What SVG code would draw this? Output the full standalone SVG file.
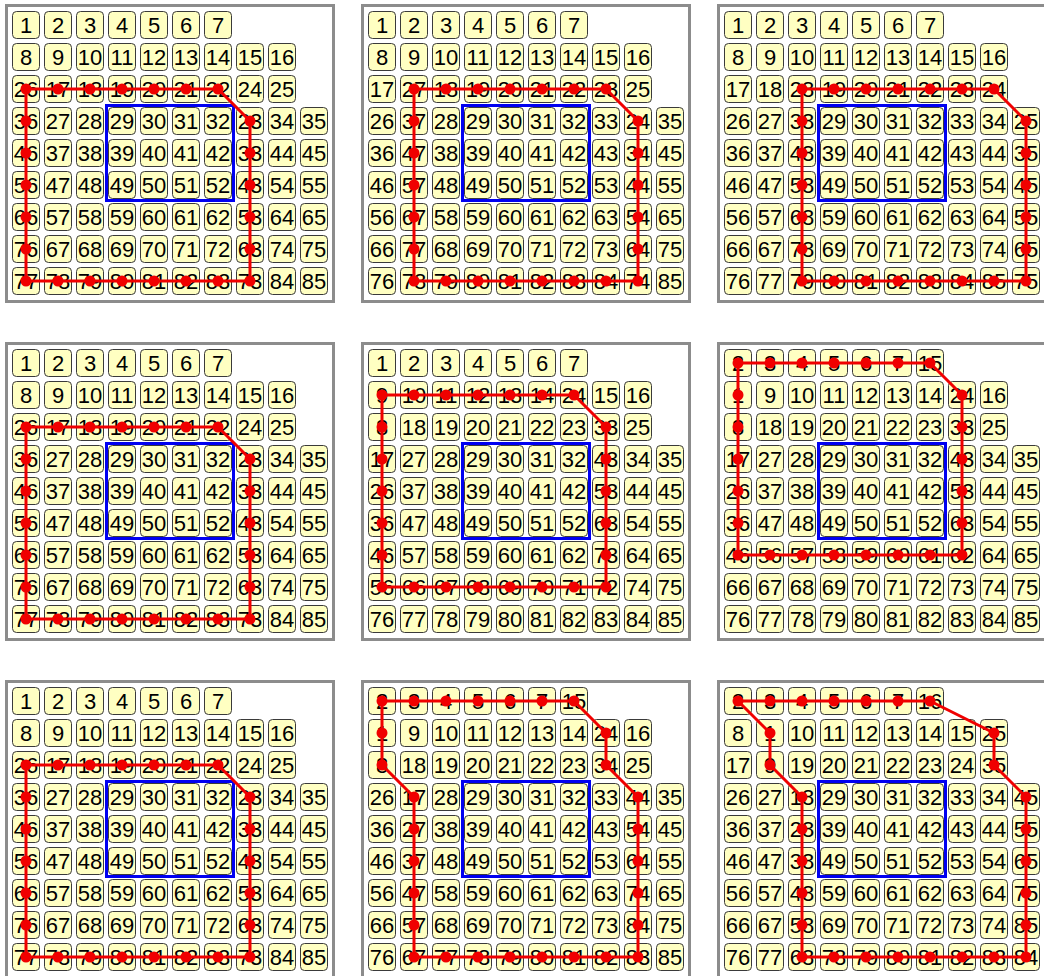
<svg xmlns="http://www.w3.org/2000/svg" xmlns:xlink="http://www.w3.org/1999/xlink" width="1044" height="976" viewBox="0 0 1044 976">
<style>
#b{fill:#ffffc2;stroke:#3a3a3a;stroke-width:1}
text{font-family:'Liberation Sans',Arial,sans-serif;font-size:22px;text-anchor:middle;fill:#000}
.f{fill:#fff;stroke:#8c8c8c;stroke-width:3}
.s{fill:none;stroke:#0000f0;stroke-width:3}
.r{fill:none;stroke:#f00000;stroke-width:3;stroke-linejoin:round}
.d{fill:#f00000}
</style>
<defs>
<rect id="b" x="-13.5" y="-21.5" width="27" height="27" rx="4"/>
</defs>
<rect width="1044" height="976" fill="#fff"/>

<g id="panel1" transform="translate(0,0)">
<rect class="f" x="6.5" y="5.5" width="327" height="296"/>
<g transform="translate(0,33)"><g id="p1n1"><use href="#b" x="26"/><text x="26">1</text></g><g id="p1n2"><use href="#b" x="58"/><text x="58">2</text></g><g id="p1n3"><use href="#b" x="90"/><text x="90">3</text></g><g id="p1n4"><use href="#b" x="122"/><text x="122">4</text></g><g id="p1n5"><use href="#b" x="154"/><text x="154">5</text></g><g id="p1n6"><use href="#b" x="186"/><text x="186">6</text></g><g id="p1n7"><use href="#b" x="218"/><text x="218">7</text></g></g>
<g transform="translate(0,65)"><g id="p1n8"><use href="#b" x="26"/><text x="26">8</text></g><g id="p1n9"><use href="#b" x="58"/><text x="58">9</text></g><g id="p1n10"><use href="#b" x="90"/><text x="90">10</text></g><g id="p1n11"><use href="#b" x="122"/><text x="122">11</text></g><g id="p1n12"><use href="#b" x="154"/><text x="154">12</text></g><g id="p1n13"><use href="#b" x="186"/><text x="186">13</text></g><g id="p1n14"><use href="#b" x="218"/><text x="218">14</text></g><g id="p1n15"><use href="#b" x="250"/><text x="250">15</text></g><g id="p1n16"><use href="#b" x="282"/><text x="282">16</text></g></g>
<g transform="translate(0,97)"><g id="p1n17"><use href="#b" x="26"/><text x="26">26</text></g><g id="p1n18"><use href="#b" x="58"/><text x="58">17</text></g><g id="p1n19"><use href="#b" x="90"/><text x="90">18</text></g><g id="p1n20"><use href="#b" x="122"/><text x="122">19</text></g><g id="p1n21"><use href="#b" x="154"/><text x="154">20</text></g><g id="p1n22"><use href="#b" x="186"/><text x="186">21</text></g><g id="p1n23"><use href="#b" x="218"/><text x="218">22</text></g><g id="p1n24"><use href="#b" x="250"/><text x="250">24</text></g><g id="p1n25"><use href="#b" x="282"/><text x="282">25</text></g></g>
<g transform="translate(0,129)"><g id="p1n26"><use href="#b" x="26"/><text x="26">36</text></g><g id="p1n27"><use href="#b" x="58"/><text x="58">27</text></g><g id="p1n28"><use href="#b" x="90"/><text x="90">28</text></g><g id="p1n29"><use href="#b" x="122"/><text x="122">29</text></g><g id="p1n30"><use href="#b" x="154"/><text x="154">30</text></g><g id="p1n31"><use href="#b" x="186"/><text x="186">31</text></g><g id="p1n32"><use href="#b" x="218"/><text x="218">32</text></g><g id="p1n33"><use href="#b" x="250"/><text x="250">23</text></g><g id="p1n34"><use href="#b" x="282"/><text x="282">34</text></g><g id="p1n35"><use href="#b" x="314"/><text x="314">35</text></g></g>
<g transform="translate(0,161)"><g id="p1n36"><use href="#b" x="26"/><text x="26">46</text></g><g id="p1n37"><use href="#b" x="58"/><text x="58">37</text></g><g id="p1n38"><use href="#b" x="90"/><text x="90">38</text></g><g id="p1n39"><use href="#b" x="122"/><text x="122">39</text></g><g id="p1n40"><use href="#b" x="154"/><text x="154">40</text></g><g id="p1n41"><use href="#b" x="186"/><text x="186">41</text></g><g id="p1n42"><use href="#b" x="218"/><text x="218">42</text></g><g id="p1n43"><use href="#b" x="250"/><text x="250">33</text></g><g id="p1n44"><use href="#b" x="282"/><text x="282">44</text></g><g id="p1n45"><use href="#b" x="314"/><text x="314">45</text></g></g>
<g transform="translate(0,193)"><g id="p1n46"><use href="#b" x="26"/><text x="26">56</text></g><g id="p1n47"><use href="#b" x="58"/><text x="58">47</text></g><g id="p1n48"><use href="#b" x="90"/><text x="90">48</text></g><g id="p1n49"><use href="#b" x="122"/><text x="122">49</text></g><g id="p1n50"><use href="#b" x="154"/><text x="154">50</text></g><g id="p1n51"><use href="#b" x="186"/><text x="186">51</text></g><g id="p1n52"><use href="#b" x="218"/><text x="218">52</text></g><g id="p1n53"><use href="#b" x="250"/><text x="250">43</text></g><g id="p1n54"><use href="#b" x="282"/><text x="282">54</text></g><g id="p1n55"><use href="#b" x="314"/><text x="314">55</text></g></g>
<g transform="translate(0,225)"><g id="p1n56"><use href="#b" x="26"/><text x="26">66</text></g><g id="p1n57"><use href="#b" x="58"/><text x="58">57</text></g><g id="p1n58"><use href="#b" x="90"/><text x="90">58</text></g><g id="p1n59"><use href="#b" x="122"/><text x="122">59</text></g><g id="p1n60"><use href="#b" x="154"/><text x="154">60</text></g><g id="p1n61"><use href="#b" x="186"/><text x="186">61</text></g><g id="p1n62"><use href="#b" x="218"/><text x="218">62</text></g><g id="p1n63"><use href="#b" x="250"/><text x="250">53</text></g><g id="p1n64"><use href="#b" x="282"/><text x="282">64</text></g><g id="p1n65"><use href="#b" x="314"/><text x="314">65</text></g></g>
<g transform="translate(0,257)"><g id="p1n66"><use href="#b" x="26"/><text x="26">76</text></g><g id="p1n67"><use href="#b" x="58"/><text x="58">67</text></g><g id="p1n68"><use href="#b" x="90"/><text x="90">68</text></g><g id="p1n69"><use href="#b" x="122"/><text x="122">69</text></g><g id="p1n70"><use href="#b" x="154"/><text x="154">70</text></g><g id="p1n71"><use href="#b" x="186"/><text x="186">71</text></g><g id="p1n72"><use href="#b" x="218"/><text x="218">72</text></g><g id="p1n73"><use href="#b" x="250"/><text x="250">63</text></g><g id="p1n74"><use href="#b" x="282"/><text x="282">74</text></g><g id="p1n75"><use href="#b" x="314"/><text x="314">75</text></g></g>
<g transform="translate(0,289)"><g id="p1n76"><use href="#b" x="26"/><text x="26">77</text></g><g id="p1n77"><use href="#b" x="58"/><text x="58">78</text></g><g id="p1n78"><use href="#b" x="90"/><text x="90">79</text></g><g id="p1n79"><use href="#b" x="122"/><text x="122">80</text></g><g id="p1n80"><use href="#b" x="154"/><text x="154">81</text></g><g id="p1n81"><use href="#b" x="186"/><text x="186">82</text></g><g id="p1n82"><use href="#b" x="218"/><text x="218">83</text></g><g id="p1n83"><use href="#b" x="250"/><text x="250">73</text></g><g id="p1n84"><use href="#b" x="282"/><text x="282">84</text></g><g id="p1n85"><use href="#b" x="314"/><text x="314">85</text></g></g>
<rect class="s" x="106.5" y="105.5" width="127" height="95"/>
<g id="p1-connectors"><polygon class="r" points="26,89 218,89 250,121 250,281 26,281"/><g class="d"><circle cx="26" cy="89" r="5.5"/><circle cx="58" cy="89" r="5.5"/><circle cx="90" cy="89" r="5.5"/><circle cx="122" cy="89" r="5.5"/><circle cx="154" cy="89" r="5.5"/><circle cx="186" cy="89" r="5.5"/><circle cx="218" cy="89" r="5.5"/><circle cx="250" cy="121" r="5.5"/><circle cx="250" cy="153" r="5.5"/><circle cx="250" cy="185" r="5.5"/><circle cx="250" cy="217" r="5.5"/><circle cx="250" cy="249" r="5.5"/><circle cx="250" cy="281" r="5.5"/><circle cx="218" cy="281" r="5.5"/><circle cx="186" cy="281" r="5.5"/><circle cx="154" cy="281" r="5.5"/><circle cx="122" cy="281" r="5.5"/><circle cx="90" cy="281" r="5.5"/><circle cx="58" cy="281" r="5.5"/><circle cx="26" cy="281" r="5.5"/><circle cx="26" cy="249" r="5.5"/><circle cx="26" cy="217" r="5.5"/><circle cx="26" cy="185" r="5.5"/><circle cx="26" cy="153" r="5.5"/><circle cx="26" cy="121" r="5.5"/></g></g>
</g>

<g id="panel2" transform="translate(356,0)">
<rect class="f" x="6.5" y="5.5" width="327" height="296"/>
<g transform="translate(0,33)"><g id="p2n1"><use href="#b" x="26"/><text x="26">1</text></g><g id="p2n2"><use href="#b" x="58"/><text x="58">2</text></g><g id="p2n3"><use href="#b" x="90"/><text x="90">3</text></g><g id="p2n4"><use href="#b" x="122"/><text x="122">4</text></g><g id="p2n5"><use href="#b" x="154"/><text x="154">5</text></g><g id="p2n6"><use href="#b" x="186"/><text x="186">6</text></g><g id="p2n7"><use href="#b" x="218"/><text x="218">7</text></g></g>
<g transform="translate(0,65)"><g id="p2n8"><use href="#b" x="26"/><text x="26">8</text></g><g id="p2n9"><use href="#b" x="58"/><text x="58">9</text></g><g id="p2n10"><use href="#b" x="90"/><text x="90">10</text></g><g id="p2n11"><use href="#b" x="122"/><text x="122">11</text></g><g id="p2n12"><use href="#b" x="154"/><text x="154">12</text></g><g id="p2n13"><use href="#b" x="186"/><text x="186">13</text></g><g id="p2n14"><use href="#b" x="218"/><text x="218">14</text></g><g id="p2n15"><use href="#b" x="250"/><text x="250">15</text></g><g id="p2n16"><use href="#b" x="282"/><text x="282">16</text></g></g>
<g transform="translate(0,97)"><g id="p2n17"><use href="#b" x="26"/><text x="26">17</text></g><g id="p2n18"><use href="#b" x="58"/><text x="58">27</text></g><g id="p2n19"><use href="#b" x="90"/><text x="90">18</text></g><g id="p2n20"><use href="#b" x="122"/><text x="122">19</text></g><g id="p2n21"><use href="#b" x="154"/><text x="154">20</text></g><g id="p2n22"><use href="#b" x="186"/><text x="186">21</text></g><g id="p2n23"><use href="#b" x="218"/><text x="218">22</text></g><g id="p2n24"><use href="#b" x="250"/><text x="250">23</text></g><g id="p2n25"><use href="#b" x="282"/><text x="282">25</text></g></g>
<g transform="translate(0,129)"><g id="p2n26"><use href="#b" x="26"/><text x="26">26</text></g><g id="p2n27"><use href="#b" x="58"/><text x="58">37</text></g><g id="p2n28"><use href="#b" x="90"/><text x="90">28</text></g><g id="p2n29"><use href="#b" x="122"/><text x="122">29</text></g><g id="p2n30"><use href="#b" x="154"/><text x="154">30</text></g><g id="p2n31"><use href="#b" x="186"/><text x="186">31</text></g><g id="p2n32"><use href="#b" x="218"/><text x="218">32</text></g><g id="p2n33"><use href="#b" x="250"/><text x="250">33</text></g><g id="p2n34"><use href="#b" x="282"/><text x="282">24</text></g><g id="p2n35"><use href="#b" x="314"/><text x="314">35</text></g></g>
<g transform="translate(0,161)"><g id="p2n36"><use href="#b" x="26"/><text x="26">36</text></g><g id="p2n37"><use href="#b" x="58"/><text x="58">47</text></g><g id="p2n38"><use href="#b" x="90"/><text x="90">38</text></g><g id="p2n39"><use href="#b" x="122"/><text x="122">39</text></g><g id="p2n40"><use href="#b" x="154"/><text x="154">40</text></g><g id="p2n41"><use href="#b" x="186"/><text x="186">41</text></g><g id="p2n42"><use href="#b" x="218"/><text x="218">42</text></g><g id="p2n43"><use href="#b" x="250"/><text x="250">43</text></g><g id="p2n44"><use href="#b" x="282"/><text x="282">34</text></g><g id="p2n45"><use href="#b" x="314"/><text x="314">45</text></g></g>
<g transform="translate(0,193)"><g id="p2n46"><use href="#b" x="26"/><text x="26">46</text></g><g id="p2n47"><use href="#b" x="58"/><text x="58">57</text></g><g id="p2n48"><use href="#b" x="90"/><text x="90">48</text></g><g id="p2n49"><use href="#b" x="122"/><text x="122">49</text></g><g id="p2n50"><use href="#b" x="154"/><text x="154">50</text></g><g id="p2n51"><use href="#b" x="186"/><text x="186">51</text></g><g id="p2n52"><use href="#b" x="218"/><text x="218">52</text></g><g id="p2n53"><use href="#b" x="250"/><text x="250">53</text></g><g id="p2n54"><use href="#b" x="282"/><text x="282">44</text></g><g id="p2n55"><use href="#b" x="314"/><text x="314">55</text></g></g>
<g transform="translate(0,225)"><g id="p2n56"><use href="#b" x="26"/><text x="26">56</text></g><g id="p2n57"><use href="#b" x="58"/><text x="58">67</text></g><g id="p2n58"><use href="#b" x="90"/><text x="90">58</text></g><g id="p2n59"><use href="#b" x="122"/><text x="122">59</text></g><g id="p2n60"><use href="#b" x="154"/><text x="154">60</text></g><g id="p2n61"><use href="#b" x="186"/><text x="186">61</text></g><g id="p2n62"><use href="#b" x="218"/><text x="218">62</text></g><g id="p2n63"><use href="#b" x="250"/><text x="250">63</text></g><g id="p2n64"><use href="#b" x="282"/><text x="282">54</text></g><g id="p2n65"><use href="#b" x="314"/><text x="314">65</text></g></g>
<g transform="translate(0,257)"><g id="p2n66"><use href="#b" x="26"/><text x="26">66</text></g><g id="p2n67"><use href="#b" x="58"/><text x="58">77</text></g><g id="p2n68"><use href="#b" x="90"/><text x="90">68</text></g><g id="p2n69"><use href="#b" x="122"/><text x="122">69</text></g><g id="p2n70"><use href="#b" x="154"/><text x="154">70</text></g><g id="p2n71"><use href="#b" x="186"/><text x="186">71</text></g><g id="p2n72"><use href="#b" x="218"/><text x="218">72</text></g><g id="p2n73"><use href="#b" x="250"/><text x="250">73</text></g><g id="p2n74"><use href="#b" x="282"/><text x="282">64</text></g><g id="p2n75"><use href="#b" x="314"/><text x="314">75</text></g></g>
<g transform="translate(0,289)"><g id="p2n76"><use href="#b" x="26"/><text x="26">76</text></g><g id="p2n77"><use href="#b" x="58"/><text x="58">78</text></g><g id="p2n78"><use href="#b" x="90"/><text x="90">79</text></g><g id="p2n79"><use href="#b" x="122"/><text x="122">80</text></g><g id="p2n80"><use href="#b" x="154"/><text x="154">81</text></g><g id="p2n81"><use href="#b" x="186"/><text x="186">82</text></g><g id="p2n82"><use href="#b" x="218"/><text x="218">83</text></g><g id="p2n83"><use href="#b" x="250"/><text x="250">84</text></g><g id="p2n84"><use href="#b" x="282"/><text x="282">74</text></g><g id="p2n85"><use href="#b" x="314"/><text x="314">85</text></g></g>
<rect class="s" x="106.5" y="105.5" width="127" height="95"/>
<g id="p2-connectors"><polygon class="r" points="58,89 250,89 282,121 282,281 58,281"/><g class="d"><circle cx="58" cy="89" r="5.5"/><circle cx="90" cy="89" r="5.5"/><circle cx="122" cy="89" r="5.5"/><circle cx="154" cy="89" r="5.5"/><circle cx="186" cy="89" r="5.5"/><circle cx="218" cy="89" r="5.5"/><circle cx="250" cy="89" r="5.5"/><circle cx="282" cy="121" r="5.5"/><circle cx="282" cy="153" r="5.5"/><circle cx="282" cy="185" r="5.5"/><circle cx="282" cy="217" r="5.5"/><circle cx="282" cy="249" r="5.5"/><circle cx="282" cy="281" r="5.5"/><circle cx="250" cy="281" r="5.5"/><circle cx="218" cy="281" r="5.5"/><circle cx="186" cy="281" r="5.5"/><circle cx="154" cy="281" r="5.5"/><circle cx="122" cy="281" r="5.5"/><circle cx="90" cy="281" r="5.5"/><circle cx="58" cy="281" r="5.5"/><circle cx="58" cy="249" r="5.5"/><circle cx="58" cy="217" r="5.5"/><circle cx="58" cy="185" r="5.5"/><circle cx="58" cy="153" r="5.5"/><circle cx="58" cy="121" r="5.5"/></g></g>
</g>

<g id="panel3" transform="translate(712,0)">
<rect class="f" x="6.5" y="5.5" width="327" height="296"/>
<g transform="translate(0,33)"><g id="p3n1"><use href="#b" x="26"/><text x="26">1</text></g><g id="p3n2"><use href="#b" x="58"/><text x="58">2</text></g><g id="p3n3"><use href="#b" x="90"/><text x="90">3</text></g><g id="p3n4"><use href="#b" x="122"/><text x="122">4</text></g><g id="p3n5"><use href="#b" x="154"/><text x="154">5</text></g><g id="p3n6"><use href="#b" x="186"/><text x="186">6</text></g><g id="p3n7"><use href="#b" x="218"/><text x="218">7</text></g></g>
<g transform="translate(0,65)"><g id="p3n8"><use href="#b" x="26"/><text x="26">8</text></g><g id="p3n9"><use href="#b" x="58"/><text x="58">9</text></g><g id="p3n10"><use href="#b" x="90"/><text x="90">10</text></g><g id="p3n11"><use href="#b" x="122"/><text x="122">11</text></g><g id="p3n12"><use href="#b" x="154"/><text x="154">12</text></g><g id="p3n13"><use href="#b" x="186"/><text x="186">13</text></g><g id="p3n14"><use href="#b" x="218"/><text x="218">14</text></g><g id="p3n15"><use href="#b" x="250"/><text x="250">15</text></g><g id="p3n16"><use href="#b" x="282"/><text x="282">16</text></g></g>
<g transform="translate(0,97)"><g id="p3n17"><use href="#b" x="26"/><text x="26">17</text></g><g id="p3n18"><use href="#b" x="58"/><text x="58">18</text></g><g id="p3n19"><use href="#b" x="90"/><text x="90">28</text></g><g id="p3n20"><use href="#b" x="122"/><text x="122">19</text></g><g id="p3n21"><use href="#b" x="154"/><text x="154">20</text></g><g id="p3n22"><use href="#b" x="186"/><text x="186">21</text></g><g id="p3n23"><use href="#b" x="218"/><text x="218">22</text></g><g id="p3n24"><use href="#b" x="250"/><text x="250">23</text></g><g id="p3n25"><use href="#b" x="282"/><text x="282">24</text></g></g>
<g transform="translate(0,129)"><g id="p3n26"><use href="#b" x="26"/><text x="26">26</text></g><g id="p3n27"><use href="#b" x="58"/><text x="58">27</text></g><g id="p3n28"><use href="#b" x="90"/><text x="90">38</text></g><g id="p3n29"><use href="#b" x="122"/><text x="122">29</text></g><g id="p3n30"><use href="#b" x="154"/><text x="154">30</text></g><g id="p3n31"><use href="#b" x="186"/><text x="186">31</text></g><g id="p3n32"><use href="#b" x="218"/><text x="218">32</text></g><g id="p3n33"><use href="#b" x="250"/><text x="250">33</text></g><g id="p3n34"><use href="#b" x="282"/><text x="282">34</text></g><g id="p3n35"><use href="#b" x="314"/><text x="314">25</text></g></g>
<g transform="translate(0,161)"><g id="p3n36"><use href="#b" x="26"/><text x="26">36</text></g><g id="p3n37"><use href="#b" x="58"/><text x="58">37</text></g><g id="p3n38"><use href="#b" x="90"/><text x="90">48</text></g><g id="p3n39"><use href="#b" x="122"/><text x="122">39</text></g><g id="p3n40"><use href="#b" x="154"/><text x="154">40</text></g><g id="p3n41"><use href="#b" x="186"/><text x="186">41</text></g><g id="p3n42"><use href="#b" x="218"/><text x="218">42</text></g><g id="p3n43"><use href="#b" x="250"/><text x="250">43</text></g><g id="p3n44"><use href="#b" x="282"/><text x="282">44</text></g><g id="p3n45"><use href="#b" x="314"/><text x="314">35</text></g></g>
<g transform="translate(0,193)"><g id="p3n46"><use href="#b" x="26"/><text x="26">46</text></g><g id="p3n47"><use href="#b" x="58"/><text x="58">47</text></g><g id="p3n48"><use href="#b" x="90"/><text x="90">58</text></g><g id="p3n49"><use href="#b" x="122"/><text x="122">49</text></g><g id="p3n50"><use href="#b" x="154"/><text x="154">50</text></g><g id="p3n51"><use href="#b" x="186"/><text x="186">51</text></g><g id="p3n52"><use href="#b" x="218"/><text x="218">52</text></g><g id="p3n53"><use href="#b" x="250"/><text x="250">53</text></g><g id="p3n54"><use href="#b" x="282"/><text x="282">54</text></g><g id="p3n55"><use href="#b" x="314"/><text x="314">45</text></g></g>
<g transform="translate(0,225)"><g id="p3n56"><use href="#b" x="26"/><text x="26">56</text></g><g id="p3n57"><use href="#b" x="58"/><text x="58">57</text></g><g id="p3n58"><use href="#b" x="90"/><text x="90">68</text></g><g id="p3n59"><use href="#b" x="122"/><text x="122">59</text></g><g id="p3n60"><use href="#b" x="154"/><text x="154">60</text></g><g id="p3n61"><use href="#b" x="186"/><text x="186">61</text></g><g id="p3n62"><use href="#b" x="218"/><text x="218">62</text></g><g id="p3n63"><use href="#b" x="250"/><text x="250">63</text></g><g id="p3n64"><use href="#b" x="282"/><text x="282">64</text></g><g id="p3n65"><use href="#b" x="314"/><text x="314">55</text></g></g>
<g transform="translate(0,257)"><g id="p3n66"><use href="#b" x="26"/><text x="26">66</text></g><g id="p3n67"><use href="#b" x="58"/><text x="58">67</text></g><g id="p3n68"><use href="#b" x="90"/><text x="90">78</text></g><g id="p3n69"><use href="#b" x="122"/><text x="122">69</text></g><g id="p3n70"><use href="#b" x="154"/><text x="154">70</text></g><g id="p3n71"><use href="#b" x="186"/><text x="186">71</text></g><g id="p3n72"><use href="#b" x="218"/><text x="218">72</text></g><g id="p3n73"><use href="#b" x="250"/><text x="250">73</text></g><g id="p3n74"><use href="#b" x="282"/><text x="282">74</text></g><g id="p3n75"><use href="#b" x="314"/><text x="314">65</text></g></g>
<g transform="translate(0,289)"><g id="p3n76"><use href="#b" x="26"/><text x="26">76</text></g><g id="p3n77"><use href="#b" x="58"/><text x="58">77</text></g><g id="p3n78"><use href="#b" x="90"/><text x="90">79</text></g><g id="p3n79"><use href="#b" x="122"/><text x="122">80</text></g><g id="p3n80"><use href="#b" x="154"/><text x="154">81</text></g><g id="p3n81"><use href="#b" x="186"/><text x="186">82</text></g><g id="p3n82"><use href="#b" x="218"/><text x="218">83</text></g><g id="p3n83"><use href="#b" x="250"/><text x="250">84</text></g><g id="p3n84"><use href="#b" x="282"/><text x="282">85</text></g><g id="p3n85"><use href="#b" x="314"/><text x="314">75</text></g></g>
<rect class="s" x="106.5" y="105.5" width="127" height="95"/>
<g id="p3-connectors"><polygon class="r" points="90,89 282,89 314,121 314,281 90,281"/><g class="d"><circle cx="90" cy="89" r="5.5"/><circle cx="122" cy="89" r="5.5"/><circle cx="154" cy="89" r="5.5"/><circle cx="186" cy="89" r="5.5"/><circle cx="218" cy="89" r="5.5"/><circle cx="250" cy="89" r="5.5"/><circle cx="282" cy="89" r="5.5"/><circle cx="314" cy="121" r="5.5"/><circle cx="314" cy="153" r="5.5"/><circle cx="314" cy="185" r="5.5"/><circle cx="314" cy="217" r="5.5"/><circle cx="314" cy="249" r="5.5"/><circle cx="314" cy="281" r="5.5"/><circle cx="282" cy="281" r="5.5"/><circle cx="250" cy="281" r="5.5"/><circle cx="218" cy="281" r="5.5"/><circle cx="186" cy="281" r="5.5"/><circle cx="154" cy="281" r="5.5"/><circle cx="122" cy="281" r="5.5"/><circle cx="90" cy="281" r="5.5"/><circle cx="90" cy="249" r="5.5"/><circle cx="90" cy="217" r="5.5"/><circle cx="90" cy="185" r="5.5"/><circle cx="90" cy="153" r="5.5"/><circle cx="90" cy="121" r="5.5"/></g></g>
</g>

<g id="panel4" transform="translate(0,338)">
<rect class="f" x="6.5" y="5.5" width="327" height="296"/>
<g transform="translate(0,33)"><g id="p4n1"><use href="#b" x="26"/><text x="26">1</text></g><g id="p4n2"><use href="#b" x="58"/><text x="58">2</text></g><g id="p4n3"><use href="#b" x="90"/><text x="90">3</text></g><g id="p4n4"><use href="#b" x="122"/><text x="122">4</text></g><g id="p4n5"><use href="#b" x="154"/><text x="154">5</text></g><g id="p4n6"><use href="#b" x="186"/><text x="186">6</text></g><g id="p4n7"><use href="#b" x="218"/><text x="218">7</text></g></g>
<g transform="translate(0,65)"><g id="p4n8"><use href="#b" x="26"/><text x="26">8</text></g><g id="p4n9"><use href="#b" x="58"/><text x="58">9</text></g><g id="p4n10"><use href="#b" x="90"/><text x="90">10</text></g><g id="p4n11"><use href="#b" x="122"/><text x="122">11</text></g><g id="p4n12"><use href="#b" x="154"/><text x="154">12</text></g><g id="p4n13"><use href="#b" x="186"/><text x="186">13</text></g><g id="p4n14"><use href="#b" x="218"/><text x="218">14</text></g><g id="p4n15"><use href="#b" x="250"/><text x="250">15</text></g><g id="p4n16"><use href="#b" x="282"/><text x="282">16</text></g></g>
<g transform="translate(0,97)"><g id="p4n17"><use href="#b" x="26"/><text x="26">26</text></g><g id="p4n18"><use href="#b" x="58"/><text x="58">17</text></g><g id="p4n19"><use href="#b" x="90"/><text x="90">18</text></g><g id="p4n20"><use href="#b" x="122"/><text x="122">19</text></g><g id="p4n21"><use href="#b" x="154"/><text x="154">20</text></g><g id="p4n22"><use href="#b" x="186"/><text x="186">21</text></g><g id="p4n23"><use href="#b" x="218"/><text x="218">22</text></g><g id="p4n24"><use href="#b" x="250"/><text x="250">24</text></g><g id="p4n25"><use href="#b" x="282"/><text x="282">25</text></g></g>
<g transform="translate(0,129)"><g id="p4n26"><use href="#b" x="26"/><text x="26">36</text></g><g id="p4n27"><use href="#b" x="58"/><text x="58">27</text></g><g id="p4n28"><use href="#b" x="90"/><text x="90">28</text></g><g id="p4n29"><use href="#b" x="122"/><text x="122">29</text></g><g id="p4n30"><use href="#b" x="154"/><text x="154">30</text></g><g id="p4n31"><use href="#b" x="186"/><text x="186">31</text></g><g id="p4n32"><use href="#b" x="218"/><text x="218">32</text></g><g id="p4n33"><use href="#b" x="250"/><text x="250">23</text></g><g id="p4n34"><use href="#b" x="282"/><text x="282">34</text></g><g id="p4n35"><use href="#b" x="314"/><text x="314">35</text></g></g>
<g transform="translate(0,161)"><g id="p4n36"><use href="#b" x="26"/><text x="26">46</text></g><g id="p4n37"><use href="#b" x="58"/><text x="58">37</text></g><g id="p4n38"><use href="#b" x="90"/><text x="90">38</text></g><g id="p4n39"><use href="#b" x="122"/><text x="122">39</text></g><g id="p4n40"><use href="#b" x="154"/><text x="154">40</text></g><g id="p4n41"><use href="#b" x="186"/><text x="186">41</text></g><g id="p4n42"><use href="#b" x="218"/><text x="218">42</text></g><g id="p4n43"><use href="#b" x="250"/><text x="250">33</text></g><g id="p4n44"><use href="#b" x="282"/><text x="282">44</text></g><g id="p4n45"><use href="#b" x="314"/><text x="314">45</text></g></g>
<g transform="translate(0,193)"><g id="p4n46"><use href="#b" x="26"/><text x="26">56</text></g><g id="p4n47"><use href="#b" x="58"/><text x="58">47</text></g><g id="p4n48"><use href="#b" x="90"/><text x="90">48</text></g><g id="p4n49"><use href="#b" x="122"/><text x="122">49</text></g><g id="p4n50"><use href="#b" x="154"/><text x="154">50</text></g><g id="p4n51"><use href="#b" x="186"/><text x="186">51</text></g><g id="p4n52"><use href="#b" x="218"/><text x="218">52</text></g><g id="p4n53"><use href="#b" x="250"/><text x="250">43</text></g><g id="p4n54"><use href="#b" x="282"/><text x="282">54</text></g><g id="p4n55"><use href="#b" x="314"/><text x="314">55</text></g></g>
<g transform="translate(0,225)"><g id="p4n56"><use href="#b" x="26"/><text x="26">66</text></g><g id="p4n57"><use href="#b" x="58"/><text x="58">57</text></g><g id="p4n58"><use href="#b" x="90"/><text x="90">58</text></g><g id="p4n59"><use href="#b" x="122"/><text x="122">59</text></g><g id="p4n60"><use href="#b" x="154"/><text x="154">60</text></g><g id="p4n61"><use href="#b" x="186"/><text x="186">61</text></g><g id="p4n62"><use href="#b" x="218"/><text x="218">62</text></g><g id="p4n63"><use href="#b" x="250"/><text x="250">53</text></g><g id="p4n64"><use href="#b" x="282"/><text x="282">64</text></g><g id="p4n65"><use href="#b" x="314"/><text x="314">65</text></g></g>
<g transform="translate(0,257)"><g id="p4n66"><use href="#b" x="26"/><text x="26">76</text></g><g id="p4n67"><use href="#b" x="58"/><text x="58">67</text></g><g id="p4n68"><use href="#b" x="90"/><text x="90">68</text></g><g id="p4n69"><use href="#b" x="122"/><text x="122">69</text></g><g id="p4n70"><use href="#b" x="154"/><text x="154">70</text></g><g id="p4n71"><use href="#b" x="186"/><text x="186">71</text></g><g id="p4n72"><use href="#b" x="218"/><text x="218">72</text></g><g id="p4n73"><use href="#b" x="250"/><text x="250">63</text></g><g id="p4n74"><use href="#b" x="282"/><text x="282">74</text></g><g id="p4n75"><use href="#b" x="314"/><text x="314">75</text></g></g>
<g transform="translate(0,289)"><g id="p4n76"><use href="#b" x="26"/><text x="26">77</text></g><g id="p4n77"><use href="#b" x="58"/><text x="58">78</text></g><g id="p4n78"><use href="#b" x="90"/><text x="90">79</text></g><g id="p4n79"><use href="#b" x="122"/><text x="122">80</text></g><g id="p4n80"><use href="#b" x="154"/><text x="154">81</text></g><g id="p4n81"><use href="#b" x="186"/><text x="186">82</text></g><g id="p4n82"><use href="#b" x="218"/><text x="218">83</text></g><g id="p4n83"><use href="#b" x="250"/><text x="250">73</text></g><g id="p4n84"><use href="#b" x="282"/><text x="282">84</text></g><g id="p4n85"><use href="#b" x="314"/><text x="314">85</text></g></g>
<rect class="s" x="106.5" y="105.5" width="127" height="95"/>
<g id="p4-connectors"><polygon class="r" points="26,89 218,89 250,121 250,281 26,281"/><g class="d"><circle cx="26" cy="89" r="5.5"/><circle cx="58" cy="89" r="5.5"/><circle cx="90" cy="89" r="5.5"/><circle cx="122" cy="89" r="5.5"/><circle cx="154" cy="89" r="5.5"/><circle cx="186" cy="89" r="5.5"/><circle cx="218" cy="89" r="5.5"/><circle cx="250" cy="121" r="5.5"/><circle cx="250" cy="153" r="5.5"/><circle cx="250" cy="185" r="5.5"/><circle cx="250" cy="217" r="5.5"/><circle cx="250" cy="249" r="5.5"/><circle cx="250" cy="281" r="5.5"/><circle cx="218" cy="281" r="5.5"/><circle cx="186" cy="281" r="5.5"/><circle cx="154" cy="281" r="5.5"/><circle cx="122" cy="281" r="5.5"/><circle cx="90" cy="281" r="5.5"/><circle cx="58" cy="281" r="5.5"/><circle cx="26" cy="281" r="5.5"/><circle cx="26" cy="249" r="5.5"/><circle cx="26" cy="217" r="5.5"/><circle cx="26" cy="185" r="5.5"/><circle cx="26" cy="153" r="5.5"/><circle cx="26" cy="121" r="5.5"/></g></g>
</g>

<g id="panel5" transform="translate(356,338)">
<rect class="f" x="6.5" y="5.5" width="327" height="296"/>
<g transform="translate(0,33)"><g id="p5n1"><use href="#b" x="26"/><text x="26">1</text></g><g id="p5n2"><use href="#b" x="58"/><text x="58">2</text></g><g id="p5n3"><use href="#b" x="90"/><text x="90">3</text></g><g id="p5n4"><use href="#b" x="122"/><text x="122">4</text></g><g id="p5n5"><use href="#b" x="154"/><text x="154">5</text></g><g id="p5n6"><use href="#b" x="186"/><text x="186">6</text></g><g id="p5n7"><use href="#b" x="218"/><text x="218">7</text></g></g>
<g transform="translate(0,65)"><g id="p5n8"><use href="#b" x="26"/><text x="26">9</text></g><g id="p5n9"><use href="#b" x="58"/><text x="58">10</text></g><g id="p5n10"><use href="#b" x="90"/><text x="90">11</text></g><g id="p5n11"><use href="#b" x="122"/><text x="122">12</text></g><g id="p5n12"><use href="#b" x="154"/><text x="154">13</text></g><g id="p5n13"><use href="#b" x="186"/><text x="186">14</text></g><g id="p5n14"><use href="#b" x="218"/><text x="218">24</text></g><g id="p5n15"><use href="#b" x="250"/><text x="250">15</text></g><g id="p5n16"><use href="#b" x="282"/><text x="282">16</text></g></g>
<g transform="translate(0,97)"><g id="p5n17"><use href="#b" x="26"/><text x="26">8</text></g><g id="p5n18"><use href="#b" x="58"/><text x="58">18</text></g><g id="p5n19"><use href="#b" x="90"/><text x="90">19</text></g><g id="p5n20"><use href="#b" x="122"/><text x="122">20</text></g><g id="p5n21"><use href="#b" x="154"/><text x="154">21</text></g><g id="p5n22"><use href="#b" x="186"/><text x="186">22</text></g><g id="p5n23"><use href="#b" x="218"/><text x="218">23</text></g><g id="p5n24"><use href="#b" x="250"/><text x="250">33</text></g><g id="p5n25"><use href="#b" x="282"/><text x="282">25</text></g></g>
<g transform="translate(0,129)"><g id="p5n26"><use href="#b" x="26"/><text x="26">17</text></g><g id="p5n27"><use href="#b" x="58"/><text x="58">27</text></g><g id="p5n28"><use href="#b" x="90"/><text x="90">28</text></g><g id="p5n29"><use href="#b" x="122"/><text x="122">29</text></g><g id="p5n30"><use href="#b" x="154"/><text x="154">30</text></g><g id="p5n31"><use href="#b" x="186"/><text x="186">31</text></g><g id="p5n32"><use href="#b" x="218"/><text x="218">32</text></g><g id="p5n33"><use href="#b" x="250"/><text x="250">43</text></g><g id="p5n34"><use href="#b" x="282"/><text x="282">34</text></g><g id="p5n35"><use href="#b" x="314"/><text x="314">35</text></g></g>
<g transform="translate(0,161)"><g id="p5n36"><use href="#b" x="26"/><text x="26">26</text></g><g id="p5n37"><use href="#b" x="58"/><text x="58">37</text></g><g id="p5n38"><use href="#b" x="90"/><text x="90">38</text></g><g id="p5n39"><use href="#b" x="122"/><text x="122">39</text></g><g id="p5n40"><use href="#b" x="154"/><text x="154">40</text></g><g id="p5n41"><use href="#b" x="186"/><text x="186">41</text></g><g id="p5n42"><use href="#b" x="218"/><text x="218">42</text></g><g id="p5n43"><use href="#b" x="250"/><text x="250">53</text></g><g id="p5n44"><use href="#b" x="282"/><text x="282">44</text></g><g id="p5n45"><use href="#b" x="314"/><text x="314">45</text></g></g>
<g transform="translate(0,193)"><g id="p5n46"><use href="#b" x="26"/><text x="26">36</text></g><g id="p5n47"><use href="#b" x="58"/><text x="58">47</text></g><g id="p5n48"><use href="#b" x="90"/><text x="90">48</text></g><g id="p5n49"><use href="#b" x="122"/><text x="122">49</text></g><g id="p5n50"><use href="#b" x="154"/><text x="154">50</text></g><g id="p5n51"><use href="#b" x="186"/><text x="186">51</text></g><g id="p5n52"><use href="#b" x="218"/><text x="218">52</text></g><g id="p5n53"><use href="#b" x="250"/><text x="250">63</text></g><g id="p5n54"><use href="#b" x="282"/><text x="282">54</text></g><g id="p5n55"><use href="#b" x="314"/><text x="314">55</text></g></g>
<g transform="translate(0,225)"><g id="p5n56"><use href="#b" x="26"/><text x="26">46</text></g><g id="p5n57"><use href="#b" x="58"/><text x="58">57</text></g><g id="p5n58"><use href="#b" x="90"/><text x="90">58</text></g><g id="p5n59"><use href="#b" x="122"/><text x="122">59</text></g><g id="p5n60"><use href="#b" x="154"/><text x="154">60</text></g><g id="p5n61"><use href="#b" x="186"/><text x="186">61</text></g><g id="p5n62"><use href="#b" x="218"/><text x="218">62</text></g><g id="p5n63"><use href="#b" x="250"/><text x="250">73</text></g><g id="p5n64"><use href="#b" x="282"/><text x="282">64</text></g><g id="p5n65"><use href="#b" x="314"/><text x="314">65</text></g></g>
<g transform="translate(0,257)"><g id="p5n66"><use href="#b" x="26"/><text x="26">56</text></g><g id="p5n67"><use href="#b" x="58"/><text x="58">66</text></g><g id="p5n68"><use href="#b" x="90"/><text x="90">67</text></g><g id="p5n69"><use href="#b" x="122"/><text x="122">68</text></g><g id="p5n70"><use href="#b" x="154"/><text x="154">69</text></g><g id="p5n71"><use href="#b" x="186"/><text x="186">70</text></g><g id="p5n72"><use href="#b" x="218"/><text x="218">71</text></g><g id="p5n73"><use href="#b" x="250"/><text x="250">72</text></g><g id="p5n74"><use href="#b" x="282"/><text x="282">74</text></g><g id="p5n75"><use href="#b" x="314"/><text x="314">75</text></g></g>
<g transform="translate(0,289)"><g id="p5n76"><use href="#b" x="26"/><text x="26">76</text></g><g id="p5n77"><use href="#b" x="58"/><text x="58">77</text></g><g id="p5n78"><use href="#b" x="90"/><text x="90">78</text></g><g id="p5n79"><use href="#b" x="122"/><text x="122">79</text></g><g id="p5n80"><use href="#b" x="154"/><text x="154">80</text></g><g id="p5n81"><use href="#b" x="186"/><text x="186">81</text></g><g id="p5n82"><use href="#b" x="218"/><text x="218">82</text></g><g id="p5n83"><use href="#b" x="250"/><text x="250">83</text></g><g id="p5n84"><use href="#b" x="282"/><text x="282">84</text></g><g id="p5n85"><use href="#b" x="314"/><text x="314">85</text></g></g>
<rect class="s" x="106.5" y="105.5" width="127" height="95"/>
<g id="p5-connectors"><polygon class="r" points="26,57 218,57 250,89 250,249 26,249"/><g class="d"><circle cx="26" cy="57" r="5.5"/><circle cx="58" cy="57" r="5.5"/><circle cx="90" cy="57" r="5.5"/><circle cx="122" cy="57" r="5.5"/><circle cx="154" cy="57" r="5.5"/><circle cx="186" cy="57" r="5.5"/><circle cx="218" cy="57" r="5.5"/><circle cx="250" cy="89" r="5.5"/><circle cx="250" cy="121" r="5.5"/><circle cx="250" cy="153" r="5.5"/><circle cx="250" cy="185" r="5.5"/><circle cx="250" cy="217" r="5.5"/><circle cx="250" cy="249" r="5.5"/><circle cx="218" cy="249" r="5.5"/><circle cx="186" cy="249" r="5.5"/><circle cx="154" cy="249" r="5.5"/><circle cx="122" cy="249" r="5.5"/><circle cx="90" cy="249" r="5.5"/><circle cx="58" cy="249" r="5.5"/><circle cx="26" cy="249" r="5.5"/><circle cx="26" cy="217" r="5.5"/><circle cx="26" cy="185" r="5.5"/><circle cx="26" cy="153" r="5.5"/><circle cx="26" cy="121" r="5.5"/><circle cx="26" cy="89" r="5.5"/></g></g>
</g>

<g id="panel6" transform="translate(712,338)">
<rect class="f" x="6.5" y="5.5" width="327" height="296"/>
<g transform="translate(0,33)"><g id="p6n1"><use href="#b" x="26"/><text x="26">2</text></g><g id="p6n2"><use href="#b" x="58"/><text x="58">3</text></g><g id="p6n3"><use href="#b" x="90"/><text x="90">4</text></g><g id="p6n4"><use href="#b" x="122"/><text x="122">5</text></g><g id="p6n5"><use href="#b" x="154"/><text x="154">6</text></g><g id="p6n6"><use href="#b" x="186"/><text x="186">7</text></g><g id="p6n7"><use href="#b" x="218"/><text x="218">15</text></g></g>
<g transform="translate(0,65)"><g id="p6n8"><use href="#b" x="26"/><text x="26">1</text></g><g id="p6n9"><use href="#b" x="58"/><text x="58">9</text></g><g id="p6n10"><use href="#b" x="90"/><text x="90">10</text></g><g id="p6n11"><use href="#b" x="122"/><text x="122">11</text></g><g id="p6n12"><use href="#b" x="154"/><text x="154">12</text></g><g id="p6n13"><use href="#b" x="186"/><text x="186">13</text></g><g id="p6n14"><use href="#b" x="218"/><text x="218">14</text></g><g id="p6n15"><use href="#b" x="250"/><text x="250">24</text></g><g id="p6n16"><use href="#b" x="282"/><text x="282">16</text></g></g>
<g transform="translate(0,97)"><g id="p6n17"><use href="#b" x="26"/><text x="26">8</text></g><g id="p6n18"><use href="#b" x="58"/><text x="58">18</text></g><g id="p6n19"><use href="#b" x="90"/><text x="90">19</text></g><g id="p6n20"><use href="#b" x="122"/><text x="122">20</text></g><g id="p6n21"><use href="#b" x="154"/><text x="154">21</text></g><g id="p6n22"><use href="#b" x="186"/><text x="186">22</text></g><g id="p6n23"><use href="#b" x="218"/><text x="218">23</text></g><g id="p6n24"><use href="#b" x="250"/><text x="250">33</text></g><g id="p6n25"><use href="#b" x="282"/><text x="282">25</text></g></g>
<g transform="translate(0,129)"><g id="p6n26"><use href="#b" x="26"/><text x="26">17</text></g><g id="p6n27"><use href="#b" x="58"/><text x="58">27</text></g><g id="p6n28"><use href="#b" x="90"/><text x="90">28</text></g><g id="p6n29"><use href="#b" x="122"/><text x="122">29</text></g><g id="p6n30"><use href="#b" x="154"/><text x="154">30</text></g><g id="p6n31"><use href="#b" x="186"/><text x="186">31</text></g><g id="p6n32"><use href="#b" x="218"/><text x="218">32</text></g><g id="p6n33"><use href="#b" x="250"/><text x="250">43</text></g><g id="p6n34"><use href="#b" x="282"/><text x="282">34</text></g><g id="p6n35"><use href="#b" x="314"/><text x="314">35</text></g></g>
<g transform="translate(0,161)"><g id="p6n36"><use href="#b" x="26"/><text x="26">26</text></g><g id="p6n37"><use href="#b" x="58"/><text x="58">37</text></g><g id="p6n38"><use href="#b" x="90"/><text x="90">38</text></g><g id="p6n39"><use href="#b" x="122"/><text x="122">39</text></g><g id="p6n40"><use href="#b" x="154"/><text x="154">40</text></g><g id="p6n41"><use href="#b" x="186"/><text x="186">41</text></g><g id="p6n42"><use href="#b" x="218"/><text x="218">42</text></g><g id="p6n43"><use href="#b" x="250"/><text x="250">53</text></g><g id="p6n44"><use href="#b" x="282"/><text x="282">44</text></g><g id="p6n45"><use href="#b" x="314"/><text x="314">45</text></g></g>
<g transform="translate(0,193)"><g id="p6n46"><use href="#b" x="26"/><text x="26">36</text></g><g id="p6n47"><use href="#b" x="58"/><text x="58">47</text></g><g id="p6n48"><use href="#b" x="90"/><text x="90">48</text></g><g id="p6n49"><use href="#b" x="122"/><text x="122">49</text></g><g id="p6n50"><use href="#b" x="154"/><text x="154">50</text></g><g id="p6n51"><use href="#b" x="186"/><text x="186">51</text></g><g id="p6n52"><use href="#b" x="218"/><text x="218">52</text></g><g id="p6n53"><use href="#b" x="250"/><text x="250">63</text></g><g id="p6n54"><use href="#b" x="282"/><text x="282">54</text></g><g id="p6n55"><use href="#b" x="314"/><text x="314">55</text></g></g>
<g transform="translate(0,225)"><g id="p6n56"><use href="#b" x="26"/><text x="26">46</text></g><g id="p6n57"><use href="#b" x="58"/><text x="58">56</text></g><g id="p6n58"><use href="#b" x="90"/><text x="90">57</text></g><g id="p6n59"><use href="#b" x="122"/><text x="122">58</text></g><g id="p6n60"><use href="#b" x="154"/><text x="154">59</text></g><g id="p6n61"><use href="#b" x="186"/><text x="186">60</text></g><g id="p6n62"><use href="#b" x="218"/><text x="218">61</text></g><g id="p6n63"><use href="#b" x="250"/><text x="250">62</text></g><g id="p6n64"><use href="#b" x="282"/><text x="282">64</text></g><g id="p6n65"><use href="#b" x="314"/><text x="314">65</text></g></g>
<g transform="translate(0,257)"><g id="p6n66"><use href="#b" x="26"/><text x="26">66</text></g><g id="p6n67"><use href="#b" x="58"/><text x="58">67</text></g><g id="p6n68"><use href="#b" x="90"/><text x="90">68</text></g><g id="p6n69"><use href="#b" x="122"/><text x="122">69</text></g><g id="p6n70"><use href="#b" x="154"/><text x="154">70</text></g><g id="p6n71"><use href="#b" x="186"/><text x="186">71</text></g><g id="p6n72"><use href="#b" x="218"/><text x="218">72</text></g><g id="p6n73"><use href="#b" x="250"/><text x="250">73</text></g><g id="p6n74"><use href="#b" x="282"/><text x="282">74</text></g><g id="p6n75"><use href="#b" x="314"/><text x="314">75</text></g></g>
<g transform="translate(0,289)"><g id="p6n76"><use href="#b" x="26"/><text x="26">76</text></g><g id="p6n77"><use href="#b" x="58"/><text x="58">77</text></g><g id="p6n78"><use href="#b" x="90"/><text x="90">78</text></g><g id="p6n79"><use href="#b" x="122"/><text x="122">79</text></g><g id="p6n80"><use href="#b" x="154"/><text x="154">80</text></g><g id="p6n81"><use href="#b" x="186"/><text x="186">81</text></g><g id="p6n82"><use href="#b" x="218"/><text x="218">82</text></g><g id="p6n83"><use href="#b" x="250"/><text x="250">83</text></g><g id="p6n84"><use href="#b" x="282"/><text x="282">84</text></g><g id="p6n85"><use href="#b" x="314"/><text x="314">85</text></g></g>
<rect class="s" x="106.5" y="105.5" width="127" height="95"/>
<g id="p6-connectors"><polygon class="r" points="26,25 218,25 250,57 250,217 26,217"/><g class="d"><circle cx="26" cy="25" r="5.5"/><circle cx="58" cy="25" r="5.5"/><circle cx="90" cy="25" r="5.5"/><circle cx="122" cy="25" r="5.5"/><circle cx="154" cy="25" r="5.5"/><circle cx="186" cy="25" r="5.5"/><circle cx="218" cy="25" r="5.5"/><circle cx="250" cy="57" r="5.5"/><circle cx="250" cy="89" r="5.5"/><circle cx="250" cy="121" r="5.5"/><circle cx="250" cy="153" r="5.5"/><circle cx="250" cy="185" r="5.5"/><circle cx="250" cy="217" r="5.5"/><circle cx="218" cy="217" r="5.5"/><circle cx="186" cy="217" r="5.5"/><circle cx="154" cy="217" r="5.5"/><circle cx="122" cy="217" r="5.5"/><circle cx="90" cy="217" r="5.5"/><circle cx="58" cy="217" r="5.5"/><circle cx="26" cy="217" r="5.5"/><circle cx="26" cy="185" r="5.5"/><circle cx="26" cy="153" r="5.5"/><circle cx="26" cy="121" r="5.5"/><circle cx="26" cy="89" r="5.5"/><circle cx="26" cy="57" r="5.5"/></g></g>
</g>

<g id="panel7" transform="translate(0,676)">
<rect class="f" x="6.5" y="5.5" width="327" height="296"/>
<g transform="translate(0,33)"><g id="p7n1"><use href="#b" x="26"/><text x="26">1</text></g><g id="p7n2"><use href="#b" x="58"/><text x="58">2</text></g><g id="p7n3"><use href="#b" x="90"/><text x="90">3</text></g><g id="p7n4"><use href="#b" x="122"/><text x="122">4</text></g><g id="p7n5"><use href="#b" x="154"/><text x="154">5</text></g><g id="p7n6"><use href="#b" x="186"/><text x="186">6</text></g><g id="p7n7"><use href="#b" x="218"/><text x="218">7</text></g></g>
<g transform="translate(0,65)"><g id="p7n8"><use href="#b" x="26"/><text x="26">8</text></g><g id="p7n9"><use href="#b" x="58"/><text x="58">9</text></g><g id="p7n10"><use href="#b" x="90"/><text x="90">10</text></g><g id="p7n11"><use href="#b" x="122"/><text x="122">11</text></g><g id="p7n12"><use href="#b" x="154"/><text x="154">12</text></g><g id="p7n13"><use href="#b" x="186"/><text x="186">13</text></g><g id="p7n14"><use href="#b" x="218"/><text x="218">14</text></g><g id="p7n15"><use href="#b" x="250"/><text x="250">15</text></g><g id="p7n16"><use href="#b" x="282"/><text x="282">16</text></g></g>
<g transform="translate(0,97)"><g id="p7n17"><use href="#b" x="26"/><text x="26">26</text></g><g id="p7n18"><use href="#b" x="58"/><text x="58">17</text></g><g id="p7n19"><use href="#b" x="90"/><text x="90">18</text></g><g id="p7n20"><use href="#b" x="122"/><text x="122">19</text></g><g id="p7n21"><use href="#b" x="154"/><text x="154">20</text></g><g id="p7n22"><use href="#b" x="186"/><text x="186">21</text></g><g id="p7n23"><use href="#b" x="218"/><text x="218">22</text></g><g id="p7n24"><use href="#b" x="250"/><text x="250">24</text></g><g id="p7n25"><use href="#b" x="282"/><text x="282">25</text></g></g>
<g transform="translate(0,129)"><g id="p7n26"><use href="#b" x="26"/><text x="26">36</text></g><g id="p7n27"><use href="#b" x="58"/><text x="58">27</text></g><g id="p7n28"><use href="#b" x="90"/><text x="90">28</text></g><g id="p7n29"><use href="#b" x="122"/><text x="122">29</text></g><g id="p7n30"><use href="#b" x="154"/><text x="154">30</text></g><g id="p7n31"><use href="#b" x="186"/><text x="186">31</text></g><g id="p7n32"><use href="#b" x="218"/><text x="218">32</text></g><g id="p7n33"><use href="#b" x="250"/><text x="250">23</text></g><g id="p7n34"><use href="#b" x="282"/><text x="282">34</text></g><g id="p7n35"><use href="#b" x="314"/><text x="314">35</text></g></g>
<g transform="translate(0,161)"><g id="p7n36"><use href="#b" x="26"/><text x="26">46</text></g><g id="p7n37"><use href="#b" x="58"/><text x="58">37</text></g><g id="p7n38"><use href="#b" x="90"/><text x="90">38</text></g><g id="p7n39"><use href="#b" x="122"/><text x="122">39</text></g><g id="p7n40"><use href="#b" x="154"/><text x="154">40</text></g><g id="p7n41"><use href="#b" x="186"/><text x="186">41</text></g><g id="p7n42"><use href="#b" x="218"/><text x="218">42</text></g><g id="p7n43"><use href="#b" x="250"/><text x="250">33</text></g><g id="p7n44"><use href="#b" x="282"/><text x="282">44</text></g><g id="p7n45"><use href="#b" x="314"/><text x="314">45</text></g></g>
<g transform="translate(0,193)"><g id="p7n46"><use href="#b" x="26"/><text x="26">56</text></g><g id="p7n47"><use href="#b" x="58"/><text x="58">47</text></g><g id="p7n48"><use href="#b" x="90"/><text x="90">48</text></g><g id="p7n49"><use href="#b" x="122"/><text x="122">49</text></g><g id="p7n50"><use href="#b" x="154"/><text x="154">50</text></g><g id="p7n51"><use href="#b" x="186"/><text x="186">51</text></g><g id="p7n52"><use href="#b" x="218"/><text x="218">52</text></g><g id="p7n53"><use href="#b" x="250"/><text x="250">43</text></g><g id="p7n54"><use href="#b" x="282"/><text x="282">54</text></g><g id="p7n55"><use href="#b" x="314"/><text x="314">55</text></g></g>
<g transform="translate(0,225)"><g id="p7n56"><use href="#b" x="26"/><text x="26">66</text></g><g id="p7n57"><use href="#b" x="58"/><text x="58">57</text></g><g id="p7n58"><use href="#b" x="90"/><text x="90">58</text></g><g id="p7n59"><use href="#b" x="122"/><text x="122">59</text></g><g id="p7n60"><use href="#b" x="154"/><text x="154">60</text></g><g id="p7n61"><use href="#b" x="186"/><text x="186">61</text></g><g id="p7n62"><use href="#b" x="218"/><text x="218">62</text></g><g id="p7n63"><use href="#b" x="250"/><text x="250">53</text></g><g id="p7n64"><use href="#b" x="282"/><text x="282">64</text></g><g id="p7n65"><use href="#b" x="314"/><text x="314">65</text></g></g>
<g transform="translate(0,257)"><g id="p7n66"><use href="#b" x="26"/><text x="26">76</text></g><g id="p7n67"><use href="#b" x="58"/><text x="58">67</text></g><g id="p7n68"><use href="#b" x="90"/><text x="90">68</text></g><g id="p7n69"><use href="#b" x="122"/><text x="122">69</text></g><g id="p7n70"><use href="#b" x="154"/><text x="154">70</text></g><g id="p7n71"><use href="#b" x="186"/><text x="186">71</text></g><g id="p7n72"><use href="#b" x="218"/><text x="218">72</text></g><g id="p7n73"><use href="#b" x="250"/><text x="250">63</text></g><g id="p7n74"><use href="#b" x="282"/><text x="282">74</text></g><g id="p7n75"><use href="#b" x="314"/><text x="314">75</text></g></g>
<g transform="translate(0,289)"><g id="p7n76"><use href="#b" x="26"/><text x="26">77</text></g><g id="p7n77"><use href="#b" x="58"/><text x="58">78</text></g><g id="p7n78"><use href="#b" x="90"/><text x="90">79</text></g><g id="p7n79"><use href="#b" x="122"/><text x="122">80</text></g><g id="p7n80"><use href="#b" x="154"/><text x="154">81</text></g><g id="p7n81"><use href="#b" x="186"/><text x="186">82</text></g><g id="p7n82"><use href="#b" x="218"/><text x="218">83</text></g><g id="p7n83"><use href="#b" x="250"/><text x="250">73</text></g><g id="p7n84"><use href="#b" x="282"/><text x="282">84</text></g><g id="p7n85"><use href="#b" x="314"/><text x="314">85</text></g></g>
<rect class="s" x="106.5" y="105.5" width="127" height="95"/>
<g id="p7-connectors"><polygon class="r" points="26,89 218,89 250,121 250,281 26,281"/><g class="d"><circle cx="26" cy="89" r="5.5"/><circle cx="58" cy="89" r="5.5"/><circle cx="90" cy="89" r="5.5"/><circle cx="122" cy="89" r="5.5"/><circle cx="154" cy="89" r="5.5"/><circle cx="186" cy="89" r="5.5"/><circle cx="218" cy="89" r="5.5"/><circle cx="250" cy="121" r="5.5"/><circle cx="250" cy="153" r="5.5"/><circle cx="250" cy="185" r="5.5"/><circle cx="250" cy="217" r="5.5"/><circle cx="250" cy="249" r="5.5"/><circle cx="250" cy="281" r="5.5"/><circle cx="218" cy="281" r="5.5"/><circle cx="186" cy="281" r="5.5"/><circle cx="154" cy="281" r="5.5"/><circle cx="122" cy="281" r="5.5"/><circle cx="90" cy="281" r="5.5"/><circle cx="58" cy="281" r="5.5"/><circle cx="26" cy="281" r="5.5"/><circle cx="26" cy="249" r="5.5"/><circle cx="26" cy="217" r="5.5"/><circle cx="26" cy="185" r="5.5"/><circle cx="26" cy="153" r="5.5"/><circle cx="26" cy="121" r="5.5"/></g></g>
</g>

<g id="panel8" transform="translate(356,676)">
<rect class="f" x="6.5" y="5.5" width="327" height="296"/>
<g transform="translate(0,33)"><g id="p8n1"><use href="#b" x="26"/><text x="26">2</text></g><g id="p8n2"><use href="#b" x="58"/><text x="58">3</text></g><g id="p8n3"><use href="#b" x="90"/><text x="90">4</text></g><g id="p8n4"><use href="#b" x="122"/><text x="122">5</text></g><g id="p8n5"><use href="#b" x="154"/><text x="154">6</text></g><g id="p8n6"><use href="#b" x="186"/><text x="186">7</text></g><g id="p8n7"><use href="#b" x="218"/><text x="218">15</text></g></g>
<g transform="translate(0,65)"><g id="p8n8"><use href="#b" x="26"/><text x="26">1</text></g><g id="p8n9"><use href="#b" x="58"/><text x="58">9</text></g><g id="p8n10"><use href="#b" x="90"/><text x="90">10</text></g><g id="p8n11"><use href="#b" x="122"/><text x="122">11</text></g><g id="p8n12"><use href="#b" x="154"/><text x="154">12</text></g><g id="p8n13"><use href="#b" x="186"/><text x="186">13</text></g><g id="p8n14"><use href="#b" x="218"/><text x="218">14</text></g><g id="p8n15"><use href="#b" x="250"/><text x="250">24</text></g><g id="p8n16"><use href="#b" x="282"/><text x="282">16</text></g></g>
<g transform="translate(0,97)"><g id="p8n17"><use href="#b" x="26"/><text x="26">8</text></g><g id="p8n18"><use href="#b" x="58"/><text x="58">18</text></g><g id="p8n19"><use href="#b" x="90"/><text x="90">19</text></g><g id="p8n20"><use href="#b" x="122"/><text x="122">20</text></g><g id="p8n21"><use href="#b" x="154"/><text x="154">21</text></g><g id="p8n22"><use href="#b" x="186"/><text x="186">22</text></g><g id="p8n23"><use href="#b" x="218"/><text x="218">23</text></g><g id="p8n24"><use href="#b" x="250"/><text x="250">34</text></g><g id="p8n25"><use href="#b" x="282"/><text x="282">25</text></g></g>
<g transform="translate(0,129)"><g id="p8n26"><use href="#b" x="26"/><text x="26">26</text></g><g id="p8n27"><use href="#b" x="58"/><text x="58">17</text></g><g id="p8n28"><use href="#b" x="90"/><text x="90">28</text></g><g id="p8n29"><use href="#b" x="122"/><text x="122">29</text></g><g id="p8n30"><use href="#b" x="154"/><text x="154">30</text></g><g id="p8n31"><use href="#b" x="186"/><text x="186">31</text></g><g id="p8n32"><use href="#b" x="218"/><text x="218">32</text></g><g id="p8n33"><use href="#b" x="250"/><text x="250">33</text></g><g id="p8n34"><use href="#b" x="282"/><text x="282">44</text></g><g id="p8n35"><use href="#b" x="314"/><text x="314">35</text></g></g>
<g transform="translate(0,161)"><g id="p8n36"><use href="#b" x="26"/><text x="26">36</text></g><g id="p8n37"><use href="#b" x="58"/><text x="58">27</text></g><g id="p8n38"><use href="#b" x="90"/><text x="90">38</text></g><g id="p8n39"><use href="#b" x="122"/><text x="122">39</text></g><g id="p8n40"><use href="#b" x="154"/><text x="154">40</text></g><g id="p8n41"><use href="#b" x="186"/><text x="186">41</text></g><g id="p8n42"><use href="#b" x="218"/><text x="218">42</text></g><g id="p8n43"><use href="#b" x="250"/><text x="250">43</text></g><g id="p8n44"><use href="#b" x="282"/><text x="282">54</text></g><g id="p8n45"><use href="#b" x="314"/><text x="314">45</text></g></g>
<g transform="translate(0,193)"><g id="p8n46"><use href="#b" x="26"/><text x="26">46</text></g><g id="p8n47"><use href="#b" x="58"/><text x="58">37</text></g><g id="p8n48"><use href="#b" x="90"/><text x="90">48</text></g><g id="p8n49"><use href="#b" x="122"/><text x="122">49</text></g><g id="p8n50"><use href="#b" x="154"/><text x="154">50</text></g><g id="p8n51"><use href="#b" x="186"/><text x="186">51</text></g><g id="p8n52"><use href="#b" x="218"/><text x="218">52</text></g><g id="p8n53"><use href="#b" x="250"/><text x="250">53</text></g><g id="p8n54"><use href="#b" x="282"/><text x="282">64</text></g><g id="p8n55"><use href="#b" x="314"/><text x="314">55</text></g></g>
<g transform="translate(0,225)"><g id="p8n56"><use href="#b" x="26"/><text x="26">56</text></g><g id="p8n57"><use href="#b" x="58"/><text x="58">47</text></g><g id="p8n58"><use href="#b" x="90"/><text x="90">58</text></g><g id="p8n59"><use href="#b" x="122"/><text x="122">59</text></g><g id="p8n60"><use href="#b" x="154"/><text x="154">60</text></g><g id="p8n61"><use href="#b" x="186"/><text x="186">61</text></g><g id="p8n62"><use href="#b" x="218"/><text x="218">62</text></g><g id="p8n63"><use href="#b" x="250"/><text x="250">63</text></g><g id="p8n64"><use href="#b" x="282"/><text x="282">74</text></g><g id="p8n65"><use href="#b" x="314"/><text x="314">65</text></g></g>
<g transform="translate(0,257)"><g id="p8n66"><use href="#b" x="26"/><text x="26">66</text></g><g id="p8n67"><use href="#b" x="58"/><text x="58">57</text></g><g id="p8n68"><use href="#b" x="90"/><text x="90">68</text></g><g id="p8n69"><use href="#b" x="122"/><text x="122">69</text></g><g id="p8n70"><use href="#b" x="154"/><text x="154">70</text></g><g id="p8n71"><use href="#b" x="186"/><text x="186">71</text></g><g id="p8n72"><use href="#b" x="218"/><text x="218">72</text></g><g id="p8n73"><use href="#b" x="250"/><text x="250">73</text></g><g id="p8n74"><use href="#b" x="282"/><text x="282">84</text></g><g id="p8n75"><use href="#b" x="314"/><text x="314">75</text></g></g>
<g transform="translate(0,289)"><g id="p8n76"><use href="#b" x="26"/><text x="26">76</text></g><g id="p8n77"><use href="#b" x="58"/><text x="58">67</text></g><g id="p8n78"><use href="#b" x="90"/><text x="90">77</text></g><g id="p8n79"><use href="#b" x="122"/><text x="122">78</text></g><g id="p8n80"><use href="#b" x="154"/><text x="154">79</text></g><g id="p8n81"><use href="#b" x="186"/><text x="186">80</text></g><g id="p8n82"><use href="#b" x="218"/><text x="218">81</text></g><g id="p8n83"><use href="#b" x="250"/><text x="250">82</text></g><g id="p8n84"><use href="#b" x="282"/><text x="282">83</text></g><g id="p8n85"><use href="#b" x="314"/><text x="314">85</text></g></g>
<rect class="s" x="106.5" y="105.5" width="127" height="95"/>
<g id="p8-connectors"><polygon class="r" points="26,25 218,25 250,57 250,89 282,121 282,281 58,281 58,121 26,89 26,57"/><g class="d"><circle cx="26" cy="25" r="5.5"/><circle cx="58" cy="25" r="5.5"/><circle cx="90" cy="25" r="5.5"/><circle cx="122" cy="25" r="5.5"/><circle cx="154" cy="25" r="5.5"/><circle cx="186" cy="25" r="5.5"/><circle cx="218" cy="25" r="5.5"/><circle cx="250" cy="57" r="5.5"/><circle cx="250" cy="89" r="5.5"/><circle cx="282" cy="121" r="5.5"/><circle cx="282" cy="153" r="5.5"/><circle cx="282" cy="185" r="5.5"/><circle cx="282" cy="217" r="5.5"/><circle cx="282" cy="249" r="5.5"/><circle cx="282" cy="281" r="5.5"/><circle cx="250" cy="281" r="5.5"/><circle cx="218" cy="281" r="5.5"/><circle cx="186" cy="281" r="5.5"/><circle cx="154" cy="281" r="5.5"/><circle cx="122" cy="281" r="5.5"/><circle cx="90" cy="281" r="5.5"/><circle cx="58" cy="281" r="5.5"/><circle cx="58" cy="249" r="5.5"/><circle cx="58" cy="217" r="5.5"/><circle cx="58" cy="185" r="5.5"/><circle cx="58" cy="153" r="5.5"/><circle cx="58" cy="121" r="5.5"/><circle cx="26" cy="89" r="5.5"/><circle cx="26" cy="57" r="5.5"/></g></g>
</g>

<g id="panel9" transform="translate(712,676)">
<rect class="f" x="6.5" y="5.5" width="327" height="296"/>
<g transform="translate(0,33)"><g id="p9n1"><use href="#b" x="26"/><text x="26">2</text></g><g id="p9n2"><use href="#b" x="58"/><text x="58">3</text></g><g id="p9n3"><use href="#b" x="90"/><text x="90">4</text></g><g id="p9n4"><use href="#b" x="122"/><text x="122">5</text></g><g id="p9n5"><use href="#b" x="154"/><text x="154">6</text></g><g id="p9n6"><use href="#b" x="186"/><text x="186">7</text></g><g id="p9n7"><use href="#b" x="218"/><text x="218">16</text></g></g>
<g transform="translate(0,65)"><g id="p9n8"><use href="#b" x="26"/><text x="26">8</text></g><g id="p9n9"><use href="#b" x="58"/><text x="58">1</text></g><g id="p9n10"><use href="#b" x="90"/><text x="90">10</text></g><g id="p9n11"><use href="#b" x="122"/><text x="122">11</text></g><g id="p9n12"><use href="#b" x="154"/><text x="154">12</text></g><g id="p9n13"><use href="#b" x="186"/><text x="186">13</text></g><g id="p9n14"><use href="#b" x="218"/><text x="218">14</text></g><g id="p9n15"><use href="#b" x="250"/><text x="250">15</text></g><g id="p9n16"><use href="#b" x="282"/><text x="282">25</text></g></g>
<g transform="translate(0,97)"><g id="p9n17"><use href="#b" x="26"/><text x="26">17</text></g><g id="p9n18"><use href="#b" x="58"/><text x="58">9</text></g><g id="p9n19"><use href="#b" x="90"/><text x="90">19</text></g><g id="p9n20"><use href="#b" x="122"/><text x="122">20</text></g><g id="p9n21"><use href="#b" x="154"/><text x="154">21</text></g><g id="p9n22"><use href="#b" x="186"/><text x="186">22</text></g><g id="p9n23"><use href="#b" x="218"/><text x="218">23</text></g><g id="p9n24"><use href="#b" x="250"/><text x="250">24</text></g><g id="p9n25"><use href="#b" x="282"/><text x="282">35</text></g></g>
<g transform="translate(0,129)"><g id="p9n26"><use href="#b" x="26"/><text x="26">26</text></g><g id="p9n27"><use href="#b" x="58"/><text x="58">27</text></g><g id="p9n28"><use href="#b" x="90"/><text x="90">18</text></g><g id="p9n29"><use href="#b" x="122"/><text x="122">29</text></g><g id="p9n30"><use href="#b" x="154"/><text x="154">30</text></g><g id="p9n31"><use href="#b" x="186"/><text x="186">31</text></g><g id="p9n32"><use href="#b" x="218"/><text x="218">32</text></g><g id="p9n33"><use href="#b" x="250"/><text x="250">33</text></g><g id="p9n34"><use href="#b" x="282"/><text x="282">34</text></g><g id="p9n35"><use href="#b" x="314"/><text x="314">45</text></g></g>
<g transform="translate(0,161)"><g id="p9n36"><use href="#b" x="26"/><text x="26">36</text></g><g id="p9n37"><use href="#b" x="58"/><text x="58">37</text></g><g id="p9n38"><use href="#b" x="90"/><text x="90">28</text></g><g id="p9n39"><use href="#b" x="122"/><text x="122">39</text></g><g id="p9n40"><use href="#b" x="154"/><text x="154">40</text></g><g id="p9n41"><use href="#b" x="186"/><text x="186">41</text></g><g id="p9n42"><use href="#b" x="218"/><text x="218">42</text></g><g id="p9n43"><use href="#b" x="250"/><text x="250">43</text></g><g id="p9n44"><use href="#b" x="282"/><text x="282">44</text></g><g id="p9n45"><use href="#b" x="314"/><text x="314">55</text></g></g>
<g transform="translate(0,193)"><g id="p9n46"><use href="#b" x="26"/><text x="26">46</text></g><g id="p9n47"><use href="#b" x="58"/><text x="58">47</text></g><g id="p9n48"><use href="#b" x="90"/><text x="90">38</text></g><g id="p9n49"><use href="#b" x="122"/><text x="122">49</text></g><g id="p9n50"><use href="#b" x="154"/><text x="154">50</text></g><g id="p9n51"><use href="#b" x="186"/><text x="186">51</text></g><g id="p9n52"><use href="#b" x="218"/><text x="218">52</text></g><g id="p9n53"><use href="#b" x="250"/><text x="250">53</text></g><g id="p9n54"><use href="#b" x="282"/><text x="282">54</text></g><g id="p9n55"><use href="#b" x="314"/><text x="314">65</text></g></g>
<g transform="translate(0,225)"><g id="p9n56"><use href="#b" x="26"/><text x="26">56</text></g><g id="p9n57"><use href="#b" x="58"/><text x="58">57</text></g><g id="p9n58"><use href="#b" x="90"/><text x="90">48</text></g><g id="p9n59"><use href="#b" x="122"/><text x="122">59</text></g><g id="p9n60"><use href="#b" x="154"/><text x="154">60</text></g><g id="p9n61"><use href="#b" x="186"/><text x="186">61</text></g><g id="p9n62"><use href="#b" x="218"/><text x="218">62</text></g><g id="p9n63"><use href="#b" x="250"/><text x="250">63</text></g><g id="p9n64"><use href="#b" x="282"/><text x="282">64</text></g><g id="p9n65"><use href="#b" x="314"/><text x="314">75</text></g></g>
<g transform="translate(0,257)"><g id="p9n66"><use href="#b" x="26"/><text x="26">66</text></g><g id="p9n67"><use href="#b" x="58"/><text x="58">67</text></g><g id="p9n68"><use href="#b" x="90"/><text x="90">58</text></g><g id="p9n69"><use href="#b" x="122"/><text x="122">69</text></g><g id="p9n70"><use href="#b" x="154"/><text x="154">70</text></g><g id="p9n71"><use href="#b" x="186"/><text x="186">71</text></g><g id="p9n72"><use href="#b" x="218"/><text x="218">72</text></g><g id="p9n73"><use href="#b" x="250"/><text x="250">73</text></g><g id="p9n74"><use href="#b" x="282"/><text x="282">74</text></g><g id="p9n75"><use href="#b" x="314"/><text x="314">85</text></g></g>
<g transform="translate(0,289)"><g id="p9n76"><use href="#b" x="26"/><text x="26">76</text></g><g id="p9n77"><use href="#b" x="58"/><text x="58">77</text></g><g id="p9n78"><use href="#b" x="90"/><text x="90">68</text></g><g id="p9n79"><use href="#b" x="122"/><text x="122">78</text></g><g id="p9n80"><use href="#b" x="154"/><text x="154">79</text></g><g id="p9n81"><use href="#b" x="186"/><text x="186">80</text></g><g id="p9n82"><use href="#b" x="218"/><text x="218">81</text></g><g id="p9n83"><use href="#b" x="250"/><text x="250">82</text></g><g id="p9n84"><use href="#b" x="282"/><text x="282">83</text></g><g id="p9n85"><use href="#b" x="314"/><text x="314">84</text></g></g>
<rect class="s" x="106.5" y="105.5" width="127" height="95"/>
<g id="p9-connectors"><polygon class="r" points="26,25 218,25 282,57 282,89 314,121 314,281 90,281 90,121 58,89 58,57"/><g class="d"><circle cx="26" cy="25" r="5.5"/><circle cx="58" cy="25" r="5.5"/><circle cx="90" cy="25" r="5.5"/><circle cx="122" cy="25" r="5.5"/><circle cx="154" cy="25" r="5.5"/><circle cx="186" cy="25" r="5.5"/><circle cx="218" cy="25" r="5.5"/><circle cx="282" cy="57" r="5.5"/><circle cx="282" cy="89" r="5.5"/><circle cx="314" cy="121" r="5.5"/><circle cx="314" cy="153" r="5.5"/><circle cx="314" cy="185" r="5.5"/><circle cx="314" cy="217" r="5.5"/><circle cx="314" cy="249" r="5.5"/><circle cx="314" cy="281" r="5.5"/><circle cx="282" cy="281" r="5.5"/><circle cx="250" cy="281" r="5.5"/><circle cx="218" cy="281" r="5.5"/><circle cx="186" cy="281" r="5.5"/><circle cx="154" cy="281" r="5.5"/><circle cx="122" cy="281" r="5.5"/><circle cx="90" cy="281" r="5.5"/><circle cx="90" cy="249" r="5.5"/><circle cx="90" cy="217" r="5.5"/><circle cx="90" cy="185" r="5.5"/><circle cx="90" cy="153" r="5.5"/><circle cx="90" cy="121" r="5.5"/><circle cx="58" cy="89" r="5.5"/><circle cx="58" cy="57" r="5.5"/></g></g>
</g>
</svg>
